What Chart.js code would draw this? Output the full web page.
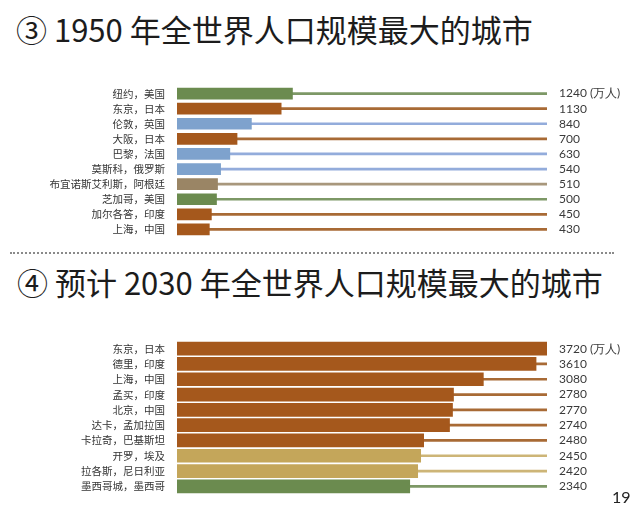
<!DOCTYPE html>
<html>
<head>
<meta charset="utf-8">
<script src="https://cdn.jsdelivr.net/npm/chart.js@4"></script>
<style>
  html, body { margin: 0; padding: 0; background: #fff; }
  body { width: 640px; height: 511px; position: relative; overflow: hidden;
         font-family: "Noto Sans CJK SC", sans-serif; }
  .title { position: absolute; left: 16px; font-size: 31px; line-height: 31px; color: #1c1c1c; white-space: nowrap; }
  .box { position: absolute; left: 0; width: 640px; }
  .dots { position: absolute; left: 10px; width: 604px; top: 252px; border-top: 2px dotted #8a8a8a; }
  .page { position: absolute; left: 612px; top: 487px; font: 16px Lato, sans-serif; color: #222; }
</style>
</head>
<body>
<div class="title" style="top:13px">③ 1950 年全世界人口规模最大的城市</div>
<div class="box" style="top:86px;height:151px"><canvas id="c1"></canvas></div>
<div class="dots"></div>
<div class="title" style="top:266px;left:17px">④ 预计 2030 年全世界人口规模最大的城市</div>
<div class="box" style="top:341px;height:153px"><canvas id="c2"></canvas></div>
<div class="page">19</div>
<script>
// 1950 年
const cities1950 = ["纽约，美国", "东京，日本", "伦敦，英国", "大阪，日本", "巴黎，法国",
  "莫斯科，俄罗斯", "布宜诺斯艾利斯，阿根廷", "芝加哥，美国", "加尔各答，印度", "上海，中国"];
const pop1950 = [1240, 1130, 840, 700, 630, 540, 510, 500, 450, 430];
const region1950 = ["北美", "亚洲", "欧洲", "亚洲", "欧洲", "欧洲", "南美", "北美", "亚洲", "亚洲"];

// 2030 年（预计）
const cities2030 = ["东京，日本", "德里，印度", "上海，中国", "孟买，印度", "北京，中国",
  "达卡，孟加拉国", "卡拉奇，巴基斯坦", "开罗，埃及", "拉各斯，尼日利亚", "墨西哥城，墨西哥"];
const pop2030 = [3720, 3610, 3080, 2780, 2770, 2740, 2480, 2450, 2420, 2340];
const region2030 = ["亚洲", "亚洲", "亚洲", "亚洲", "亚洲", "亚洲", "亚洲", "非洲", "非洲", "北美"];

const unit = "(万人)";
const axisMax = 3720;

const regionColors = {
  "北美": "#6b8b4f",
  "亚洲": "#a5581c",
  "欧洲": "#7ea2cd",
  "南美": "#9a8565",
  "非洲": "#c4a65a"
};
const lineColors = {
  "北美": "#7d9866",
  "亚洲": "#a86a35",
  "欧洲": "#93acdb",
  "南美": "#a8977c",
  "非洲": "#cdb577"
};

// 竖轴的 tick padding 会加到上下边距上，这里去掉
function fixAxis(width) {
  return s => { s.width = width; s.paddingTop = 0; s.paddingBottom = 0; };
}

function makeChart(id, cities, pops, regions, xMin, barW) {
  const valueLabels = pops.map((v, i) => i === 0 ? v + " " + unit : String(v));
  return new Chart(document.getElementById(id), {
    type: "bar",
    data: {
      labels: cities,
      datasets: [
        {
          data: pops,
          backgroundColor: regions.map(r => regionColors[r]),
          barThickness: barW,
          grouped: false
        },
        {
          // 细线：延伸到轴的最大值
          data: pops.map(() => axisMax),
          backgroundColor: regions.map(r => lineColors[r]),
          barThickness: 2,
          grouped: false
        }
      ]
    },
    options: {
      indexAxis: "y",
      responsive: true,
      maintainAspectRatio: false,
      animation: false,
      layout: { padding: 0 },
      plugins: { legend: { display: false }, tooltip: { enabled: false } },
      scales: {
        x: { display: false, min: xMin, max: axisMax },
        y: {
          position: "left",
          grid: { display: false, drawTicks: false },
          border: { display: false },
          ticks: { color: "#333", padding: 12, autoSkip: false,
                   font: { family: "Noto Sans CJK SC", size: 10.5 } },
          afterFit: fixAxis(177)
        },
        y2: {
          type: "category",
          labels: valueLabels,
          position: "right",
          offset: true,
          grid: { display: false, drawTicks: false },
          border: { display: false },
          ticks: { color: "#3a3a3a", padding: 12, autoSkip: false,
                   font: { family: "Lato", size: 12 } },
          afterFit: fixAxis(93)
        }
      }
    }
  });
}

makeChart("c1", cities1950, pop1950, region1950, 115, 11);
makeChart("c2", cities2030, pop2030, region2030, 0, 13);
</script>
</body>
</html>
